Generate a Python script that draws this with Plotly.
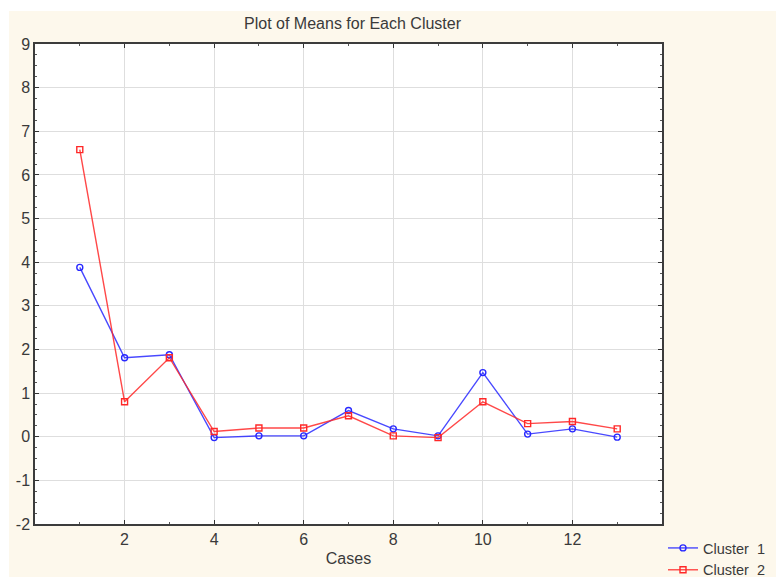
import plotly.graph_objects as go

cases = list(range(1, 14))
cluster1 = [3.88, 1.81, 1.88, -0.02, 0.02, 0.02, 0.60, 0.18, 0.02, 1.47, 0.06, 0.18, -0.01]
cluster2 = [6.58, 0.80, 1.81, 0.12, 0.20, 0.20, 0.48, 0.02, -0.02, 0.80, 0.30, 0.35, 0.18]
series_names = ["Cluster  1", "Cluster  2"]
x_ticks = [2, 4, 6, 8, 10, 12]
y_ticks = list(range(-2, 10))
y_tick_labels = [str(v) for v in y_ticks]

font_family = "Liberation Sans, Arial, sans-serif"
text_color = "#3a3a3a"
cream = "#FDF8EC"

fig = go.Figure()
fig.add_trace(go.Scatter(
    x=cases, y=cluster1, name=series_names[0], mode="lines+markers",
    line=dict(color="rgba(40,40,255,0.85)", width=1.4),
    marker=dict(symbol="circle-open", size=6, color="rgb(40,40,255)", line=dict(width=1.4)),
))
fig.add_trace(go.Scatter(
    x=cases, y=cluster2, name=series_names[1], mode="lines+markers",
    line=dict(color="rgba(255,40,40,0.85)", width=1.4),
    marker=dict(symbol="square-open", size=6, color="rgb(255,40,40)", line=dict(width=1.4)),
))

# white strips along the top and left edges of the page
pw, ph = 627, 480
fig.add_shape(type="rect", xref="paper", yref="paper",
              x0=-35 / pw, x1=741 / pw, y0=(524 - 11) / ph, y1=524 / ph,
              fillcolor="white", line_width=0, layer="above")
fig.add_shape(type="rect", xref="paper", yref="paper",
              x0=-35 / pw, x1=-26 / pw, y0=-53 / ph, y1=524 / ph,
              fillcolor="white", line_width=0, layer="above")

axis_common = dict(
    showgrid=True, gridcolor="#dedede", gridwidth=1.3,
    zeroline=False, showline=True, linecolor="#3c3c3c", linewidth=1.5, mirror="allticks",
    ticks="inside", ticklen=4, tickcolor="#333",
    tickfont=dict(size=16, color=text_color, family=font_family),
)

fig.update_xaxes(
    range=[0, 14], tickvals=x_ticks, **axis_common,
    minor=dict(dtick=1, tick0=0, ticks="inside", ticklen=2, tickcolor="#555", showgrid=False),
    title=dict(text="Cases", font=dict(size=16, color=text_color, family=font_family), standoff=6),
)
fig.update_yaxes(
    range=[-2, 9], tickvals=y_ticks, ticktext=y_tick_labels, **axis_common,
    minor=dict(dtick=0.25, tick0=0, ticks="inside", ticklen=2, tickcolor="#555", showgrid=False),
)

fig.update_layout(
    width=776, height=577,
    margin=dict(l=35, r=114, t=44, b=53, autoexpand=False),
    paper_bgcolor=cream, plot_bgcolor="white",
    title=dict(text="Plot of Means for Each Cluster", x=393 / 776, xref="paper", xanchor="center",
               y=1 - 23 / 577, yanchor="middle",
               font=dict(size=16, color=text_color, family=font_family)),
    legend=dict(x=(663 - 35) / pw, xanchor="left", y=-(532 - 524) / ph, yanchor="top",
                font=dict(size=14.5, color=text_color, family=font_family),
                bgcolor="rgba(0,0,0,0)", tracegroupgap=0, itemwidth=30),
    showlegend=True,
)

fig.write_html("out.html")
